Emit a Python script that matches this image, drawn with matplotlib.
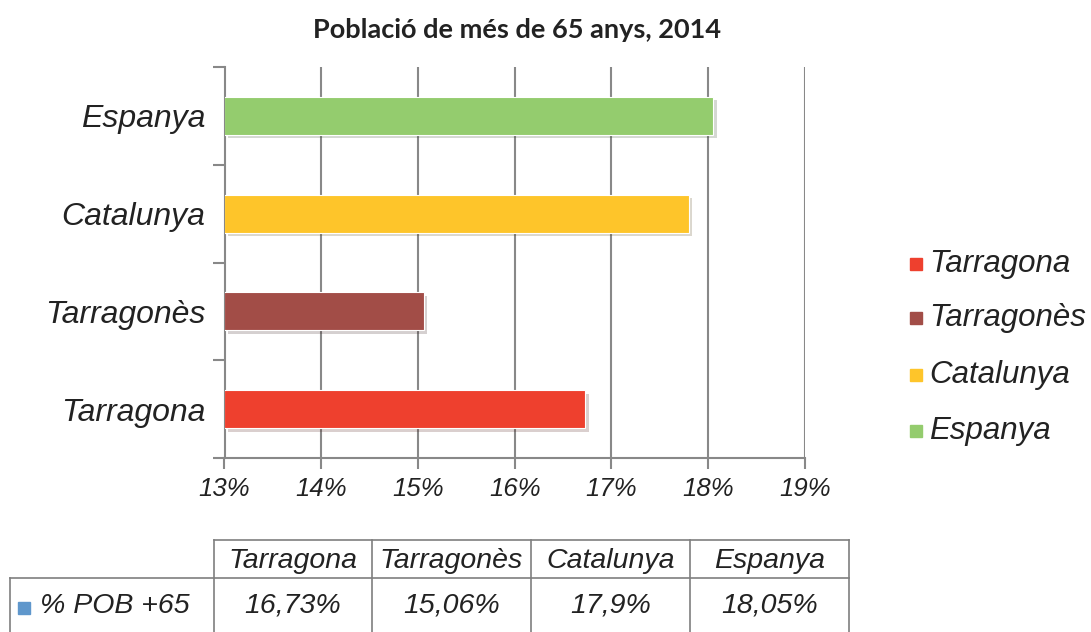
import matplotlib.pyplot as plt
import matplotlib.patheffects as pe
from matplotlib.patches import Rectangle
from matplotlib.lines import Line2D
import numpy as np

# data
categories = ['Tarragona', 'Tarragonès', 'Catalunya', 'Espanya']
bar_values = [16.73, 15.06, 17.8, 18.05]
table_labels = ['16,73%', '15,06%', '17,9%', '18,05%']
row_label = '% POB +65'
x_ticks = [13, 14, 15, 16, 17, 18, 19]
colors = ['#EE402E', '#A24D47', '#FEC52A', '#94CC6E']

W, H = 1091, 632
fig = plt.figure(figsize=(W / 100, H / 100), dpi=100)

def fx(px):
    return px / W

def fy(py):
    return 1 - py / H

ax = fig.add_axes([fx(224.5), fy(458), fx(805) - fx(224.5), fy(67) - fy(458)])
y = np.arange(len(categories))
base = x_ticks[0]
bars = ax.barh(y, np.array(bar_values) - base, left=base, height=0.39,
               color=colors, zorder=3, edgecolor='white', linewidth=0.8)
for b in bars:
    b.set_path_effects([pe.SimplePatchShadow(offset=(2.5, -2.5), alpha=0.2), pe.Normal()])

ax.set_xlim(13, 19)
ax.set_ylim(-0.5, 3.5)
ax.set_xticks(x_ticks)
ax.set_xticklabels([f'{t}%' for t in x_ticks], fontsize=18.5, style='italic',
                   family='Liberation Sans', color='#222222')
ax.set_yticks(y)
ax.set_yticklabels(categories, fontsize=23, style='italic',
                   family='Liberation Sans', color='#222222')
ax.tick_params(axis='y', which='major', length=0, pad=14)
ax.set_yticks(np.arange(-0.5, 4, 1), minor=True)
ax.tick_params(axis='y', which='minor', length=9, color='#888888', width=1.5)
ax.tick_params(axis='x', length=8, color='#888888', width=1.5, pad=6)
ax.grid(axis='x', color='#888888', linewidth=1.5, zorder=0)
for s in ['top', 'right']:
    ax.spines[s].set_visible(False)
for s in ['left', 'bottom']:
    ax.spines[s].set_color('#888888')
    ax.spines[s].set_linewidth(1.5)

fig.text(fx(517), fy(30), 'Població de més de 65 anys, 2014', ha='center', va='center',
         fontsize=19.5, fontweight='bold', family='Lato', color='#222222')

# legend
leg_y = [264, 318, 375, 431]
for cat, c, ly in zip(categories, colors, leg_y):
    fig.patches.append(Rectangle((fx(910), fy(ly + 6)), fx(12), fy(ly - 6) - fy(ly + 6),
                                 color=c, transform=fig.transFigure))
    fig.text(fx(929), fy(ly), cat, ha='left', va='center', fontsize=22.5,
             style='italic', family='Liberation Sans', color='#222222')

# data table
line_kw = dict(color='#7F7F7F', linewidth=1.2, transform=fig.transFigure)
col_x = [214, 372, 531, 690, 849]
fig.lines.append(Line2D([fx(214), fx(849)], [fy(540), fy(540)], **line_kw))
fig.lines.append(Line2D([fx(10), fx(849)], [fy(578), fy(578)], **line_kw))
for cx in col_x:
    fig.lines.append(Line2D([fx(cx), fx(cx)], [fy(540), fy(632)], **line_kw))
fig.lines.append(Line2D([fx(10), fx(10)], [fy(578), fy(632)], **line_kw))
tkw = dict(fontsize=20.5, style='italic', family='Liberation Sans', color='#222222')
for i, (cat, lab) in enumerate(zip(categories, table_labels)):
    cx = (col_x[i] + col_x[i + 1]) / 2
    fig.text(fx(cx), fy(561), cat, ha='center', va='center', **tkw)
    fig.text(fx(cx), fy(606), lab, ha='center', va='center', **tkw)
fig.patches.append(Rectangle((fx(18), fy(614)), fx(12), fy(602) - fy(614),
                             color='#5F97CC', transform=fig.transFigure))
fig.text(fx(40), fy(606), row_label, ha='left', va='center', **tkw)

fig.savefig('out.png', dpi=100)
